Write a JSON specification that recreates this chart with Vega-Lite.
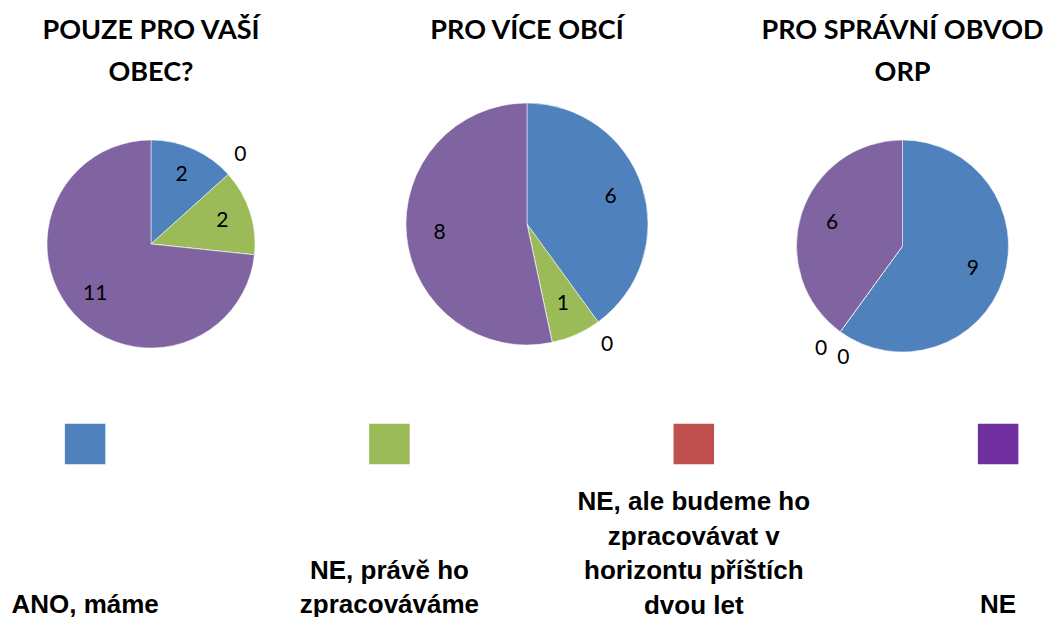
{
  "$schema": "https://vega.github.io/schema/vega-lite/v6.json",
  "padding": {"top": 17, "left": 0, "right": 0, "bottom": 0},
  "background": "white",
  "spacing": 0,
  "config": {
    "view": {"stroke": null},
    "title": {"font": "Lato", "fontSize": 27, "fontWeight": "bold", "color": "black", "lineHeight": 42, "anchor": "middle", "offset": 10, "frame": "group"}
  },
  "datasets": {
    "pies": [
      {"chart": "POUZE PRO VAŠÍ OBEC?", "category": "ANO, máme", "value": 2},
      {"chart": "POUZE PRO VAŠÍ OBEC?", "category": "NE, právě ho zpracováváme", "value": 2},
      {"chart": "POUZE PRO VAŠÍ OBEC?", "category": "NE, ale budeme ho zpracovávat v horizontu příštích dvou let", "value": 0},
      {"chart": "POUZE PRO VAŠÍ OBEC?", "category": "NE", "value": 11},
      {"chart": "PRO VÍCE OBCÍ", "category": "ANO, máme", "value": 6},
      {"chart": "PRO VÍCE OBCÍ", "category": "NE, právě ho zpracováváme", "value": 1},
      {"chart": "PRO VÍCE OBCÍ", "category": "NE, ale budeme ho zpracovávat v horizontu příštích dvou let", "value": 0},
      {"chart": "PRO VÍCE OBCÍ", "category": "NE", "value": 8},
      {"chart": "PRO SPRÁVNÍ OBVOD ORP", "category": "ANO, máme", "value": 9},
      {"chart": "PRO SPRÁVNÍ OBVOD ORP", "category": "NE, právě ho zpracováváme", "value": 0},
      {"chart": "PRO SPRÁVNÍ OBVOD ORP", "category": "NE, ale budeme ho zpracovávat v horizontu příštích dvou let", "value": 0},
      {"chart": "PRO SPRÁVNÍ OBVOD ORP", "category": "NE", "value": 6}
    ],
    "legend": [
      {"category": "ANO, máme", "label": "ANO, máme"},
      {"category": "NE, právě ho zpracováváme", "label": "NE, právě ho\nzpracováváme"},
      {"category": "NE, ale budeme ho zpracovávat v horizontu příštích dvou let", "label": "NE, ale budeme ho\nzpracovávat v\nhorizontu příštích\ndvou let"},
      {"category": "NE", "label": "NE"}
    ]
  },
  "resolve": {"scale": {"color": "independent", "x": "independent", "theta": "independent"}},
  "vconcat": [
    {
      "spacing": 0,
      "resolve": {"scale": {"color": "independent", "theta": "independent"}},
      "hconcat": [
        {
          "width": 302,
          "height": 294,
          "title": {"text": ["POUZE PRO VAŠÍ", "OBEC?"]},
          "data": {"name": "pies"},
          "transform": [
            {"filter": "datum.chart === 'POUZE PRO VAŠÍ OBEC?'"},
            {"calculate": "indexof(['ANO, máme','NE, právě ho zpracováváme','NE, ale budeme ho zpracovávat v horizontu příštích dvou let','NE'], datum.category)", "as": "ord"},
            {"stack": "value", "groupby": [], "sort": [{"field": "ord", "order": "ascending"}], "as": ["v0", "v1"]},
            {"calculate": "(datum.v0 + datum.v1) / 2", "as": "mid"}
          ],
          "layer": [
            {
              "mark": {"type": "arc", "outerRadius": 104, "stroke": "white", "strokeWidth": 0.5},
              "encoding": {
                "theta": {"field": "v0", "type": "quantitative", "scale": {"domain": [0, 15]}},
                "theta2": {"field": "v1"},
                "color": {"field": "category", "type": "nominal", "legend": null,
                  "scale": {"domain": ["ANO, máme", "NE, právě ho zpracováváme", "NE, ale budeme ho zpracovávat v horizontu příštích dvou let", "NE"], "range": ["#4F81BD", "#9BBB59", "#C0504D", "#8064A2"]}}
              }
            },
            {
              "transform": [{"filter": "datum.value > 0"}],
              "mark": {"type": "text", "radius": 75, "font": "Lato", "fontSize": 21, "color": "black"},
              "encoding": {"theta": {"field": "mid", "type": "quantitative", "stack": null, "scale": {"domain": [0, 15]}}, "text": {"field": "value", "type": "quantitative"}}
            },
            {
              "transform": [{"filter": "datum.value == 0"}],
              "mark": {"type": "text", "radius": 126, "dx": -36, "dy": -102, "font": "Lato", "fontSize": 21, "color": "black"},
              "encoding": {"theta": {"field": "mid", "type": "quantitative", "stack": null, "scale": {"domain": [0, 15]}}, "text": {"field": "value", "type": "quantitative"}}
            }
          ]
        },
        {
          "width": 450,
          "height": 254,
          "title": {"text": "PRO VÍCE OBCÍ", "offset": 52},
          "data": {"name": "pies"},
          "transform": [
            {"filter": "datum.chart === 'PRO VÍCE OBCÍ'"},
            {"calculate": "indexof(['ANO, máme','NE, právě ho zpracováváme','NE, ale budeme ho zpracovávat v horizontu příštích dvou let','NE'], datum.category)", "as": "ord"},
            {"stack": "value", "groupby": [], "sort": [{"field": "ord", "order": "ascending"}], "as": ["v0", "v1"]},
            {"calculate": "(datum.v0 + datum.v1) / 2", "as": "mid"}
          ],
          "layer": [
            {
              "mark": {"type": "arc", "outerRadius": 121, "stroke": "white", "strokeWidth": 0.5},
              "encoding": {
                "theta": {"field": "v0", "type": "quantitative", "scale": {"domain": [0, 15]}},
                "theta2": {"field": "v1"},
                "color": {"field": "category", "type": "nominal", "legend": null,
                  "scale": {"domain": ["ANO, máme", "NE, právě ho zpracováváme", "NE, ale budeme ho zpracovávat v horizontu příštích dvou let", "NE"], "range": ["#4F81BD", "#9BBB59", "#C0504D", "#8064A2"]}}
              }
            },
            {
              "transform": [{"filter": "datum.value > 0"}],
              "mark": {"type": "text", "radius": 88, "font": "Lato", "fontSize": 21, "color": "black"},
              "encoding": {"theta": {"field": "mid", "type": "quantitative", "stack": null, "scale": {"domain": [0, 15]}}, "text": {"field": "value", "type": "quantitative"}}
            },
            {
              "transform": [{"filter": "datum.value == 0"}],
              "mark": {"type": "text", "radius": 145, "dx": 50, "dy": -21, "font": "Lato", "fontSize": 21, "color": "black"},
              "encoding": {"theta": {"field": "mid", "type": "quantitative", "stack": null, "scale": {"domain": [0, 15]}}, "text": {"field": "value", "type": "quantitative"}}
            }
          ]
        },
        {
          "width": 301,
          "height": 298,
          "title": {"text": ["PRO SPRÁVNÍ OBVOD", "ORP"]},
          "data": {"name": "pies"},
          "transform": [
            {"filter": "datum.chart === 'PRO SPRÁVNÍ OBVOD ORP'"},
            {"calculate": "indexof(['ANO, máme','NE, právě ho zpracováváme','NE, ale budeme ho zpracovávat v horizontu příštích dvou let','NE'], datum.category)", "as": "ord"},
            {"stack": "value", "groupby": [], "sort": [{"field": "ord", "order": "ascending"}], "as": ["v0", "v1"]},
            {"calculate": "(datum.v0 + datum.v1) / 2", "as": "mid"}
          ],
          "layer": [
            {
              "mark": {"type": "arc", "outerRadius": 106, "stroke": "white", "strokeWidth": 0.5},
              "encoding": {
                "theta": {"field": "v0", "type": "quantitative", "scale": {"domain": [0, 15]}},
                "theta2": {"field": "v1"},
                "color": {"field": "category", "type": "nominal", "legend": null,
                  "scale": {"domain": ["ANO, máme", "NE, právě ho zpracováváme", "NE, ale budeme ho zpracovávat v horizontu příštích dvou let", "NE"], "range": ["#4F81BD", "#9BBB59", "#C0504D", "#8064A2"]}}
              }
            },
            {
              "transform": [{"filter": "datum.value > 0"}],
              "mark": {"type": "text", "radius": 74, "font": "Lato", "fontSize": 21, "color": "black"},
              "encoding": {"theta": {"field": "mid", "type": "quantitative", "stack": null, "scale": {"domain": [0, 15]}}, "text": {"field": "value", "type": "quantitative"}}
            },
            {
              "transform": [{"filter": "datum.value == 0 && datum.ord == 1"}],
              "mark": {"type": "text", "radius": 130, "dx": -5, "dy": -2, "font": "Lato", "fontSize": 21, "color": "black"},
              "encoding": {"theta": {"field": "mid", "type": "quantitative", "stack": null, "scale": {"domain": [0, 15]}}, "text": {"field": "value", "type": "quantitative"}}
            },
            {
              "transform": [{"filter": "datum.value == 0 && datum.ord == 2"}],
              "mark": {"type": "text", "radius": 128, "dx": 16, "dy": 8, "font": "Lato", "fontSize": 21, "color": "black"},
              "encoding": {"theta": {"field": "mid", "type": "quantitative", "stack": null, "scale": {"domain": [0, 15]}}, "text": {"field": "value", "type": "quantitative"}}
            }
          ]
        }
      ]
    },
    {
      "width": 1053,
      "height": 224,
      "data": {"name": "legend"},
      "encoding": {
        "x": {"field": "category", "type": "nominal", "axis": null,
          "scale": {"type": "point", "padding": 0.23, "align": 0.608,
            "domain": ["ANO, máme", "NE, právě ho zpracováváme", "NE, ale budeme ho zpracovávat v horizontu příštích dvou let", "NE"]}},
        "text": {"field": "label"}
      },
      "layer": [
        {
          "mark": {"type": "square", "size": 1640, "opacity": 1, "filled": true, "yOffset": -63},
          "encoding": {
            "text": null,
            "color": {"field": "category", "type": "nominal", "legend": null,
              "scale": {"domain": ["ANO, máme", "NE, právě ho zpracováváme", "NE, ale budeme ho zpracovávat v horizontu příštích dvou let", "NE"], "range": ["#4F81BD", "#9BBB59", "#C0504D", "#7030A0"]}}
          }
        },
        {
          "transform": [{"filter": "datum.category === 'ANO, máme' || datum.category === 'NE'"}],
          "mark": {"type": "text", "lineBreak": "\n", "font": "Liberation Sans", "fontWeight": "bold", "fontSize": 26, "lineHeight": 34.5, "baseline": "alphabetic", "dy": 106, "color": "black"}
        },
        {
          "transform": [{"filter": "datum.category === 'NE, právě ho zpracováváme'"}],
          "mark": {"type": "text", "lineBreak": "\n", "font": "Liberation Sans", "fontWeight": "bold", "fontSize": 26, "lineHeight": 34.5, "baseline": "alphabetic", "dy": 71.5, "color": "black"}
        },
        {
          "transform": [{"filter": "datum.category === 'NE, ale budeme ho zpracovávat v horizontu příštích dvou let'"}],
          "mark": {"type": "text", "lineBreak": "\n", "font": "Liberation Sans", "fontWeight": "bold", "fontSize": 26, "lineHeight": 34.5, "baseline": "alphabetic", "dy": 3, "color": "black"}
        }
      ]
    }
  ]
}
